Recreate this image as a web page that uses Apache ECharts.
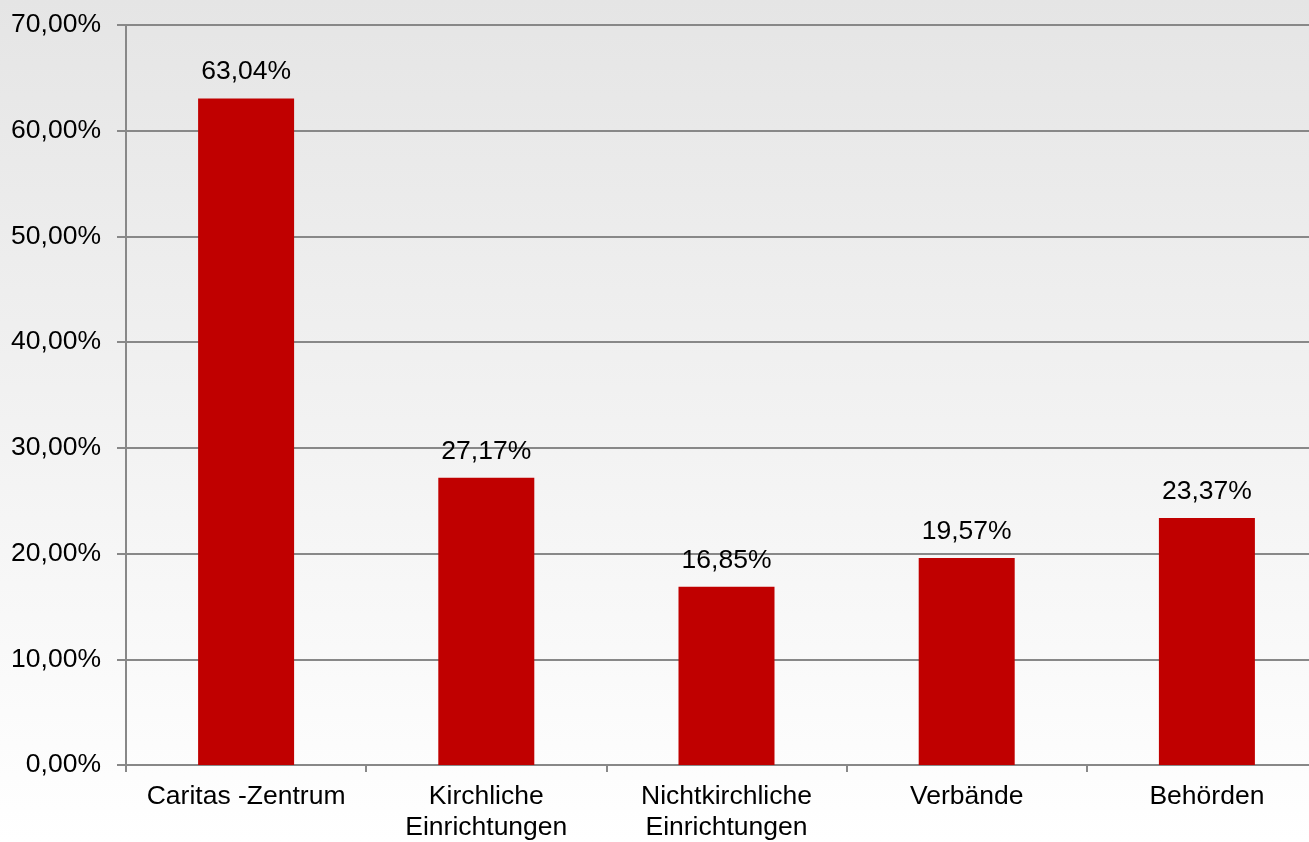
<!DOCTYPE html>
<html>
<head>
<meta charset="utf-8">
<script src="https://cdn.jsdelivr.net/npm/echarts@6/dist/echarts.min.js"></script>
<style>
  html, body { margin: 0; padding: 0; }
  #chart { width: 1309px; height: 842px; }
</style>
</head>
<body>
<div id="chart"></div>
<script>
const categories = ['Caritas -Zentrum', 'Kirchliche\nEinrichtungen', 'Nichtkirchliche\nEinrichtungen', 'Verbände', 'Behörden']
const values = [63.04, 27.17, 16.85, 19.57, 23.37]

const fmt = v => v.toFixed(2).replace('.', ',') + '%'

const chart = echarts.init(document.getElementById('chart'))
chart.setOption({
  backgroundColor: {
    type: 'linear', x: 0, y: 0, x2: 0, y2: 1,
    colorStops: [
      { offset: 0, color: '#e5e5e5' },
      { offset: 1, color: '#ffffff' }
    ]
  },
  textStyle: { fontFamily: 'Liberation Sans, Arial, sans-serif' },
  animation: false,
  // plot runs past the right edge like the original slide
  grid: { left: 126, top: 25, width: 1201, bottom: 77, containLabel: false, outerBoundsMode: 'none' },
  xAxis: {
    type: 'category',
    data: categories,
    axisLine: { lineStyle: { color: '#888888', width: 2 } },
    axisTick: { show: true, length: 7, lineStyle: { color: '#888888', width: 2 } },
    axisLabel: { color: '#000', fontSize: 26.5, lineHeight: 31, margin: 16, interval: 0 }
  },
  yAxis: {
    type: 'value',
    min: 0, max: 70, interval: 10,
    axisLine: { show: true, lineStyle: { color: '#888888', width: 2 } },
    axisTick: { show: true, length: 9, lineStyle: { color: '#888888', width: 2 } },
    splitLine: { lineStyle: { color: '#888888', width: 2 } },
    axisLabel: { color: '#000', fontSize: 26.5, margin: 25, formatter: fmt }
  },
  series: [{
    type: 'bar',
    data: values,
    barWidth: 96,
    itemStyle: { color: '#c00000' },
    label: {
      show: true, position: 'top', distance: 13,
      color: '#000', fontSize: 26.5,
      formatter: p => fmt(p.value)
    }
  }]
})
</script>
</body>
</html>
